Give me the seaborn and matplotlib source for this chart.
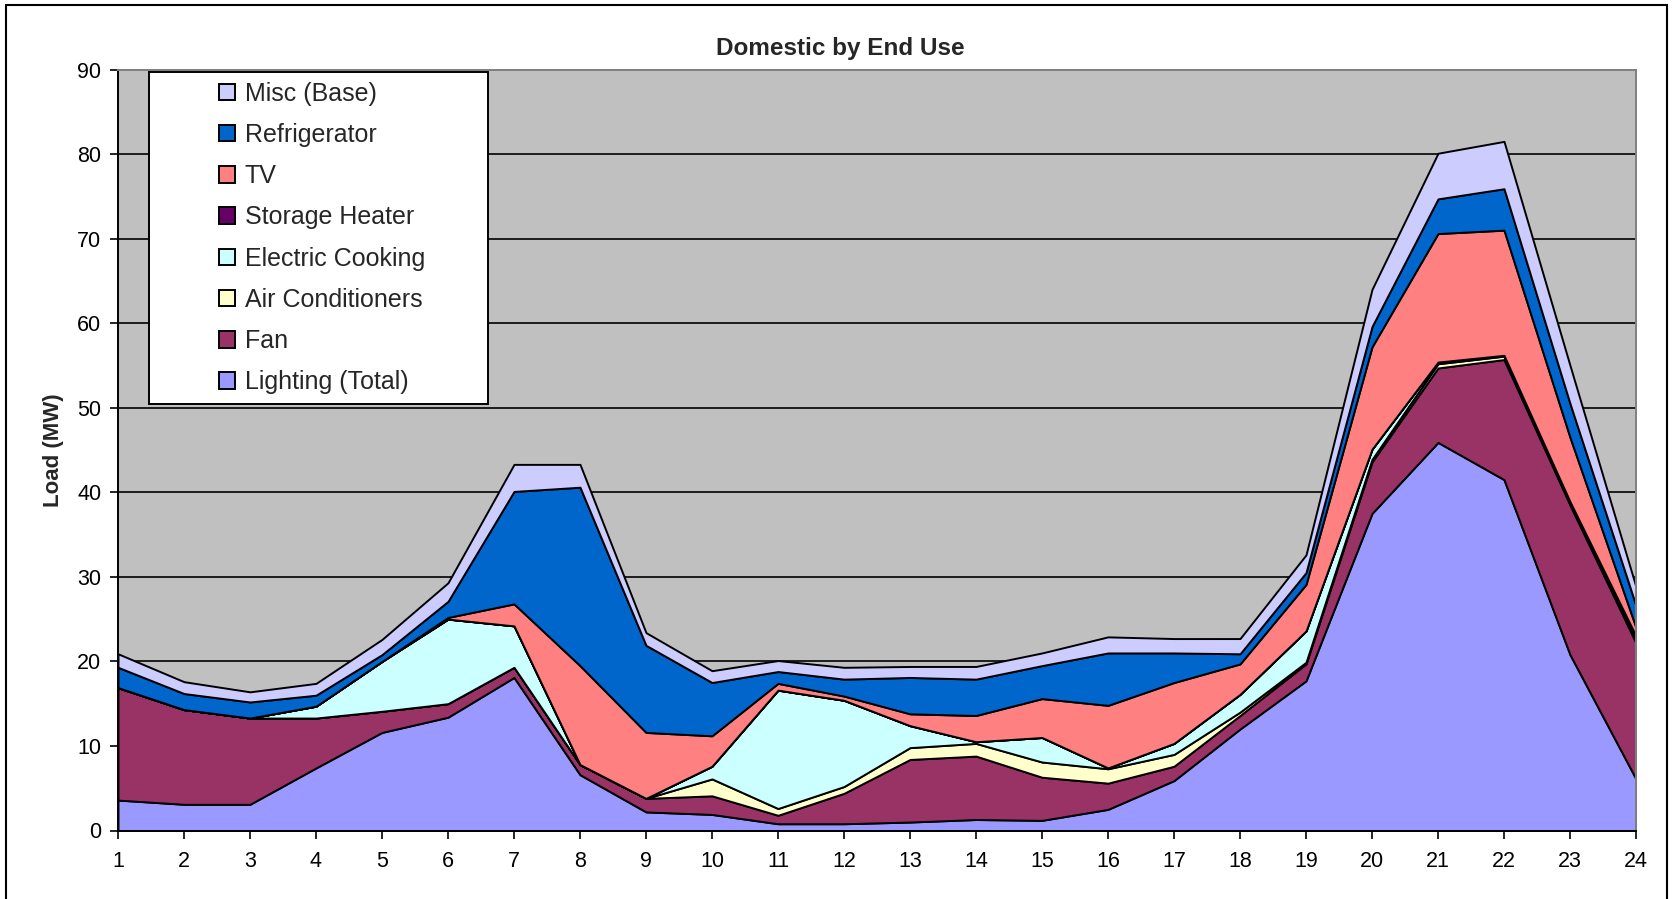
import numpy as np
import pandas as pd
import seaborn as sns
import matplotlib.pyplot as plt
from matplotlib.patches import Rectangle

# hourly load by end use (MW)
hours = list(range(1, 25))
lighting = [3.6, 3.1, 3.1, 7.4, 11.6, 13.4, 18.1, 6.6, 2.2, 1.9, 0.8, 0.8,
            1.0, 1.3, 1.2, 2.5, 5.9, 12.0, 17.7, 37.5, 45.9, 41.5, 20.8, 6.1]
fan = [13.3, 11.2, 10.2, 5.9, 2.5, 1.6, 1.2, 1.2, 1.6, 2.2, 1.0, 3.6,
       7.4, 7.5, 5.1, 3.1, 1.7, 1.6, 2.0, 6.1, 8.8, 14.2, 17.7, 16.1]
air_cond = [0, 0, 0, 0, 0, 0, 0, 0, 0, 2.0, 0.8, 0.8,
            1.4, 1.5, 1.8, 1.7, 1.4, 0.4, 0.2, 0.3, 0.5, 0.4, 0.2, 0.4]
cooking = [0, 0, 0, 1.4, 5.9, 10.0, 4.9, 0, 0, 1.5, 14.0, 10.2,
           2.6, 0.2, 2.9, 0.1, 1.3, 2.1, 3.7, 1.2, 0.2, 0.1, 0.2, 0.4]
storage_heater = [0] * 24
tv = [0, 0, 0, 0, 0, 0.2, 2.6, 11.7, 7.8, 3.6, 0.8, 0.5,
      1.4, 3.1, 4.6, 7.4, 7.2, 3.6, 5.5, 12.1, 15.2, 14.8, 7.6, 1.0]
fridge = [2.4, 1.9, 1.9, 1.3, 0.8, 1.9, 13.3, 21.1, 10.3, 6.3, 1.4, 2.0,
          4.3, 4.3, 3.9, 6.2, 3.5, 1.2, 1.4, 2.4, 4.1, 4.9, 4.0, 2.6]
misc = [1.6, 1.4, 1.2, 1.4, 1.8, 2.2, 3.2, 2.7, 1.5, 1.4, 1.3, 1.4,
        1.3, 1.5, 1.5, 1.9, 1.7, 1.8, 2.1, 4.4, 5.4, 5.6, 4.5, 2.2]

df = pd.DataFrame({
    "Lighting (Total)": lighting,
    "Fan": fan,
    "Air Conditioners": air_cond,
    "Electric Cooking": cooking,
    "Storage Heater": storage_heater,
    "TV": tv,
    "Refrigerator": fridge,
    "Misc (Base)": misc,
}, index=hours)

colors = ["#9999FF", "#993366", "#FFFFCC", "#CCFFFF",
          "#660066", "#FF8080", "#0066CC", "#CCCCFF"]

sns.set_theme(style="white")
plt.rcParams["font.family"] = ["Liberation Sans", "DejaVu Sans"]

W, H = 1673, 899
fig = plt.figure(figsize=(W / 100, H / 100), dpi=100)
ax = fig.add_axes([118 / W, (H - 830.5) / H, 1518 / W, 761 / H])
ax.set_facecolor("#C0C0C0")

ax.stackplot(df.index, df.T.values, colors=colors, labels=df.columns,
             edgecolor="black", linewidth=1.4, zorder=2)

ax.set_xlim(1, 24)
ax.set_ylim(0, 90)
ax.set_xticks(hours)
ax.set_yticks(range(0, 91, 10))
ax.yaxis.grid(True, color="black", linewidth=1.2)
ax.xaxis.grid(False)
ax.set_axisbelow(True)
ax.tick_params(axis="both", direction="out", length=6, width=1.2,
               color="black", labelsize=15.5, labelcolor="black")
ax.tick_params(axis="x", pad=9)
ax.tick_params(axis="y", pad=6)
ax.tick_params(left=True, bottom=True)

for side in ["left", "bottom"]:
    ax.spines[side].set_color("black")
    ax.spines[side].set_linewidth(1.4)
for side in ["top", "right"]:
    ax.spines[side].set_color("#808080")
    ax.spines[side].set_linewidth(1.4)

# legend box
ax.add_patch(Rectangle((31 / 1518, 0.560), 339 / 1518, 0.437,
                       transform=ax.transAxes, facecolor="white",
                       edgecolor="black", linewidth=1.4, zorder=4))
handles, labels = ax.get_legend_handles_labels()
leg = ax.legend(handles[::-1], labels[::-1], loc="center left",
                bbox_to_anchor=(101 / 1518, 0.7786), frameon=False,
                fontsize=18, handlelength=0.64, handleheight=0.64,
                handletextpad=0.4, labelspacing=0.69, borderpad=0,
                borderaxespad=0)
leg.set_zorder(5)

fig.text(840 / W, 1 - 48 / H, "Domestic by End Use", ha="center",
         va="center", fontsize=17.5, fontweight="bold")
fig.text(53 / W, 1 - 450 / H, "Load (MW)", ha="center", va="center",
         rotation=90, fontsize=16, fontweight="bold")

# chart area border
fig.patches.append(Rectangle((6 / W, -0.02), 1661 / W, 1.02 - 5 / H,
                             transform=fig.transFigure, fill=False,
                             edgecolor="black", linewidth=1.5))

fig.savefig("out.png", dpi=100)
